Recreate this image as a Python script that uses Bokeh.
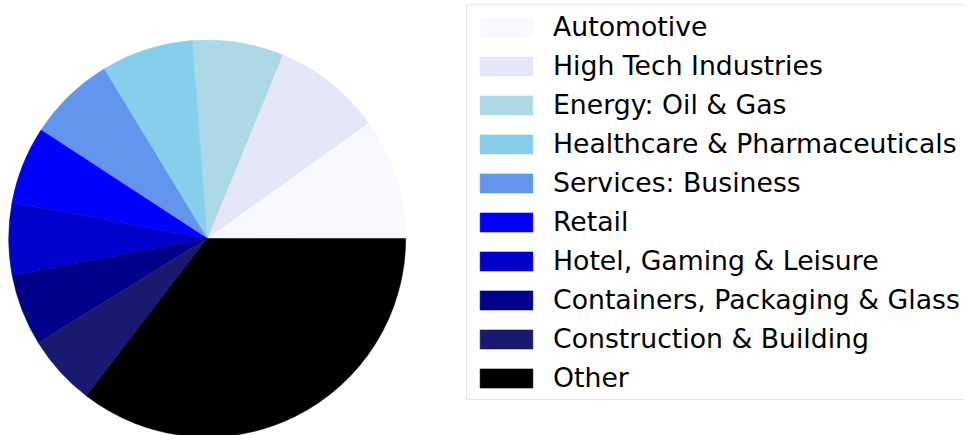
import numpy as np
from bokeh.plotting import figure
from bokeh.models import ColumnDataSource, Range1d, Legend, LegendItem
from bokeh.embed import file_html
from bokeh.resources import INLINE

sectors = ["Automotive", "High Tech Industries", "Energy: Oil & Gas",
           "Healthcare & Pharmaceuticals", "Services: Business", "Retail",
           "Hotel, Gaming & Leisure", "Containers, Packaging & Glass",
           "Construction & Building", "Other"]
shares = [9.9, 8.9, 7.4, 7.5, 7.1, 6.3, 5.9, 5.8, 5.8, 35.4]
colors = ["#F8F8FF", "#E6E6FA", "#ADD8E6", "#87CEEB", "#6495ED",
          "#0000FF", "#0000CD", "#00008B", "#191970", "#000000"]

vals = np.array(shares, dtype=float)
frac = vals / vals.sum()
ends = np.cumsum(frac) * 2 * np.pi
starts = np.concatenate([[0.0], ends[:-1]])

src = ColumnDataSource(dict(sector=sectors, start=starts, end=ends, color=colors))

W, H = 964, 435
R = 198.5          # radius in pixels
cx, cy = 206.7, 238.0  # centre in pixels from top-left
p = figure(width=W, height=H, output_backend="svg", toolbar_location=None,
           min_border=0, x_range=Range1d(-cx / R, (W - cx) / R),
           y_range=Range1d(-(H - cy) / R, cy / R))
p.axis.visible = False
p.grid.visible = False
p.outline_line_color = None

r = p.wedge(x=0, y=0, radius=1, start_angle="start", end_angle="end",
            fill_color="color", line_color="color", line_width=0.5, source=src)

items = [LegendItem(label=s, renderers=[r], index=i) for i, s in enumerate(sectors)]
legend = Legend(items=items, location=(466, 35))
legend.label_text_font = "DejaVu Sans"
legend.label_text_font_size = "26.7px"
legend.label_text_color = "#000000"
legend.glyph_width = 66
legend.glyph_height = 24
legend.label_height = 24
legend.label_standoff = 14
legend.spacing = 8
legend.padding = 6
legend.margin = 0
legend.border_line_color = "#cccccc"
legend.border_line_width = 1
legend.background_fill_color = "#ffffff"
legend.background_fill_alpha = 0.8
p.add_layout(legend)

open("out.html", "w").write(file_html(p, INLINE))
